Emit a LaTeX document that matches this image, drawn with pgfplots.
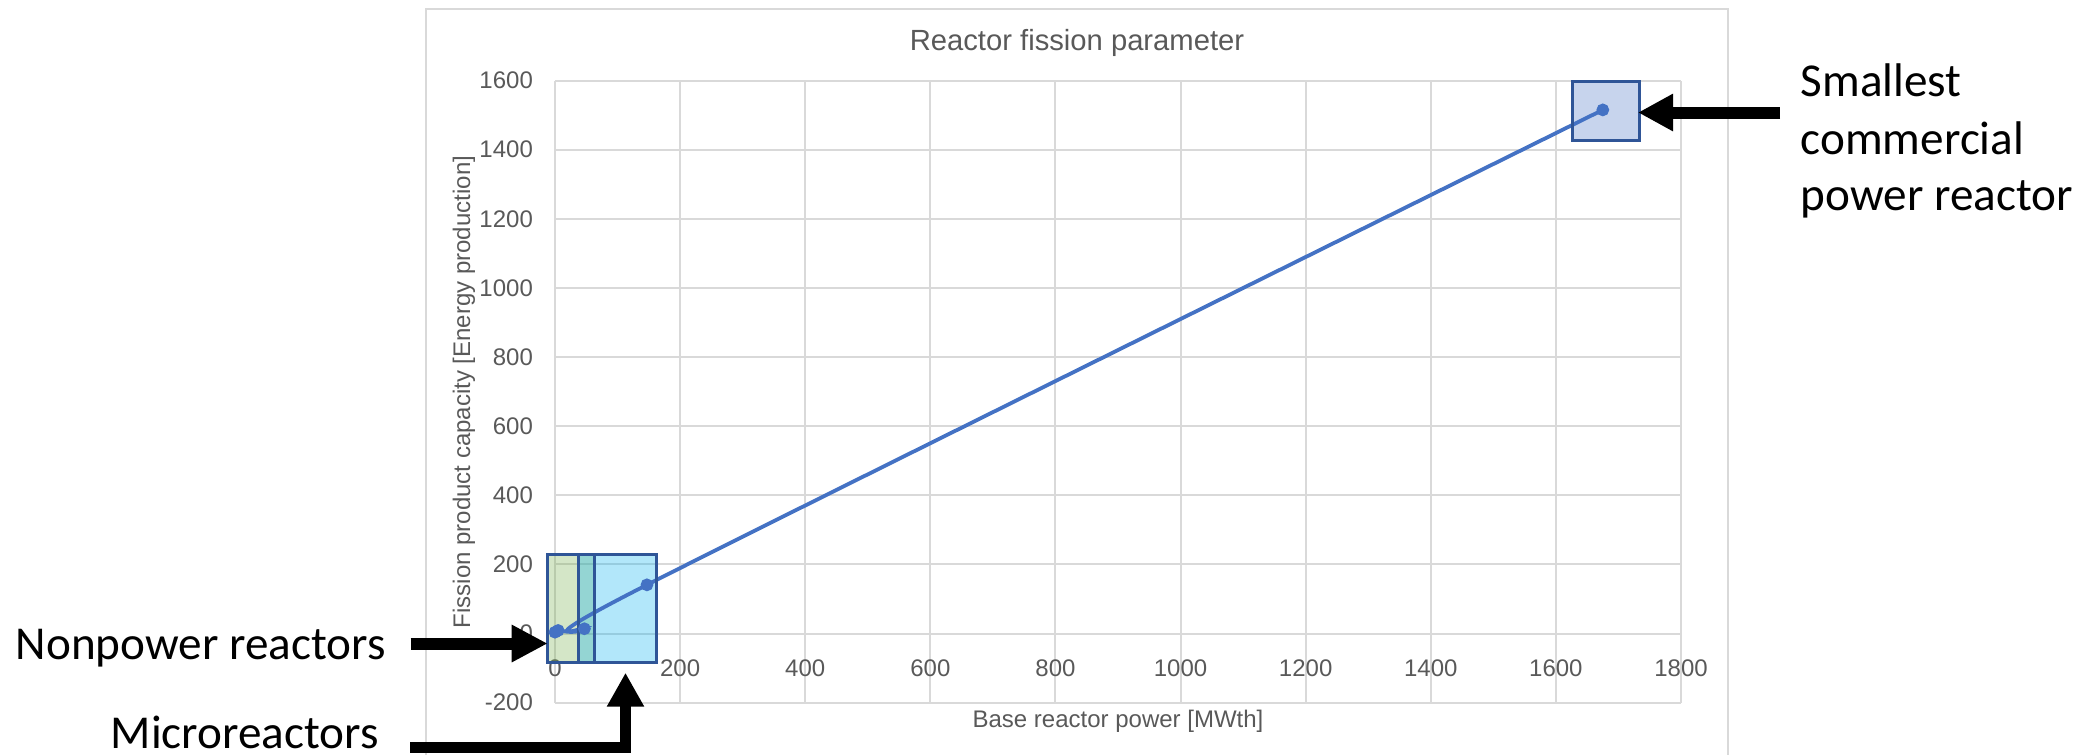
\documentclass[border=0pt]{standalone}
\usepackage{fontspec}
\setmainfont{Liberation Sans}
\newfontfamily\calibri{Carlito}
\usepackage{pgfplots}
\pgfplotsset{compat=1.18}
\usetikzlibrary{arrows.meta}
\definecolor{labelgray}{HTML}{595959}
\definecolor{gridgray}{HTML}{D9D9D9}
\definecolor{lineblue}{HTML}{4472C4}
\definecolor{boxedge}{HTML}{2F5597}
\definecolor{boxgreen}{HTML}{70AD47}
\definecolor{boxcyan}{HTML}{00B0F0}
\begin{document}
\begin{tikzpicture}
\begin{scope}[x=0.25pt,y=-0.25pt]
\path[use as bounding box] (0,0) rectangle (2093,754);
\draw[gridgray, line width=0.5pt] (426,760) -- (426,9) -- (1728,9) -- (1728,760);
\node[font=\fontsize{7.3}{9}\selectfont, text=labelgray, anchor=base, inner sep=0] at (1077,50) {Reactor fission parameter};
\end{scope}
\begin{axis}[
  at={(138.75pt,-175.675pt)}, anchor=south west,
  scale only axis, width=281.5pt, height=155.55pt,
  xmin=0, xmax=1800, ymin=-200, ymax=1600,
  xtick={0,200,...,1800}, ytick={-200,0,...,1600},
  grid=major, grid style={draw=gridgray, line width=0.5pt},
  axis x line*=middle, axis y line*=left,
  hide obscured x ticks=false, hide obscured y ticks=false,
  axis line style={draw=none},
  major tick length=0pt,
  tick label style={font=\fontsize{6}{7}\selectfont, text=labelgray},
  /pgf/number format/assume math mode=true,
  /pgf/number format/1000 sep={},
  xticklabel style={yshift=-3pt},
  yticklabel style={xshift=-2pt},
  clip=false,
]
% highlighted regions
\fill[boxgreen, fill opacity=0.3] (axis cs:-11.7,-83) rectangle (axis cs:62.9,227.5);
\fill[boxcyan, fill opacity=0.3] (axis cs:37.3,-83) rectangle (axis cs:162.7,227.5);
\fill[lineblue, fill opacity=0.3] (axis cs:1626.7,1426.6) rectangle (axis cs:1733.9,1597);
\addplot[lineblue, line width=0.95pt, smooth, mark=*, mark size=1.1pt,
  mark options={fill=lineblue, draw=lineblue}]
  coordinates {(0,4) (5,9) (47,14) (147,141) (1675,1515)};
\draw[boxedge, line width=0.75pt] (axis cs:-11.7,-83) rectangle (axis cs:62.9,227.5);
\draw[boxedge, line width=0.75pt] (axis cs:37.3,-83) rectangle (axis cs:162.7,227.5);
\draw[boxedge, line width=0.75pt] (axis cs:1626.7,1426.6) rectangle (axis cs:1733.9,1597);
\end{axis}
\begin{scope}[x=0.25pt,y=-0.25pt]
\node[font=\fontsize{6}{7}\selectfont, text=labelgray, anchor=base, inner sep=0] at (1118,727.3) {Base reactor power [MWth]};
\node[font=\fontsize{6}{7}\selectfont, text=labelgray, anchor=base, inner sep=0, rotate=90] at (470,392) {Fission product capacity [Energy production]};
% annotations
\draw[black, line width=3pt, -{Triangle[length=8.75pt, width=8.75pt]}] (1780,112.5) -- (1638,112.5);
\draw[black, line width=3pt, -{Triangle[length=9pt, width=8.75pt]}] (410.7,643.5) -- (547.7,643.5);
\draw[black, line width=2.8pt, miter limit=10, -{Triangle[length=8.5pt, width=8.75pt]}] (410,747.5) -- (625.5,747.5) -- (625.5,672.7);
\begin{scope}[every node/.style={font=\calibri\fontsize{11.8}{14}\selectfont, anchor=base west, inner sep=0}]
\node at (15,659.3) {Nonpower reactors};
\node at (110,748) {Microreactors};
\node at (1800,96.7) {Smallest};
\node at (1800,154) {commercial};
\node at (1800,210) {power reactor};
\end{scope}
\end{scope}
\end{tikzpicture}
\end{document}
